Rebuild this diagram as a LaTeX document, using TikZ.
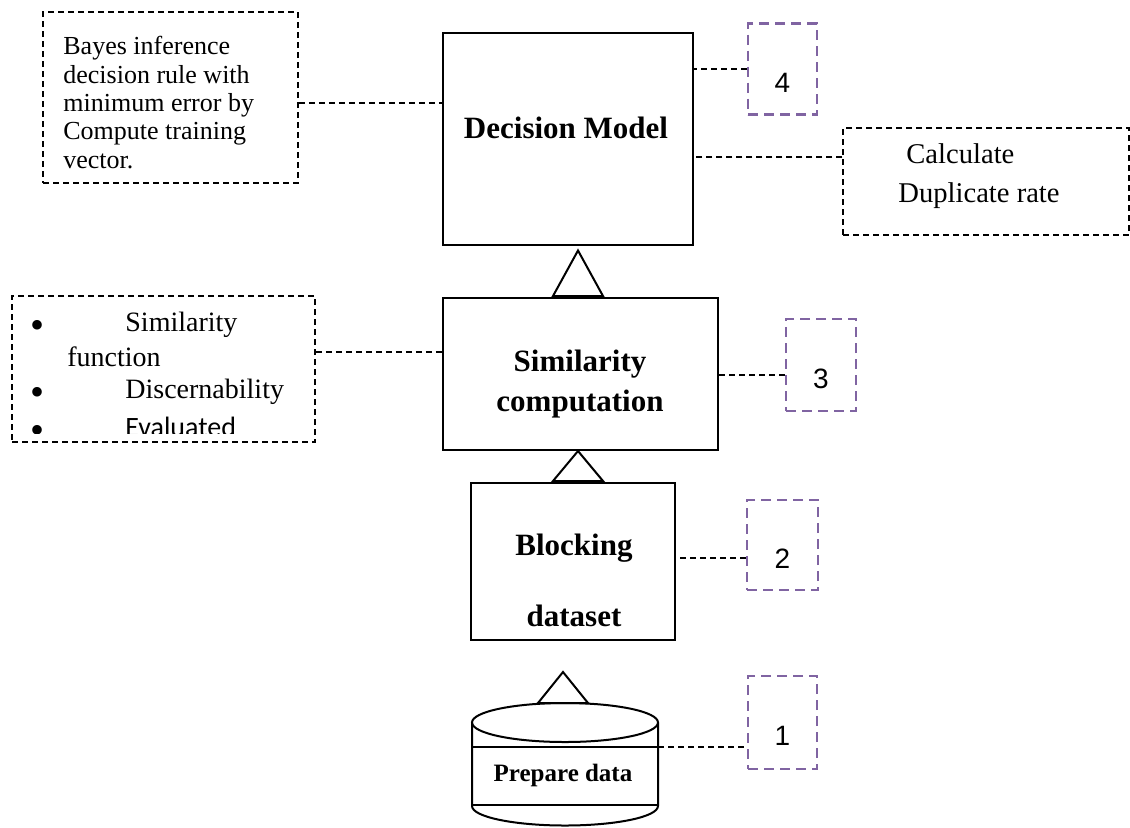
\documentclass[tikz,border=0pt]{standalone}
\usepackage{fontspec}
\setmainfont{Liberation Serif}
\newfontfamily\numfont{Liberation Sans}
\newfontfamily\bodyfont{Carlito}
\usetikzlibrary{calc}
\definecolor{tagpurple}{HTML}{8064A2}
\newcommand{\itemdot}{\makebox[47.5pt][l]{\fontsize{20}{20}\selectfont\raisebox{-3.5pt}{\textbullet}}}

\begin{document}
\begin{tikzpicture}[x=0.5pt, y=-0.5pt,
    block/.style={draw, line width=1pt, inner sep=0pt},
    note/.style={draw, line width=0.75pt, dash pattern=on 3pt off 2pt, inner sep=0pt},
    tag/.style={draw=tagpurple, line width=1.1pt, dash pattern=on 5pt off 3pt, inner sep=0pt,
                font=\numfont\fontsize{14}{16}\selectfont, text height=23pt, text depth=0pt},
    link/.style={line width=0.75pt, dash pattern=on 3pt off 2pt},
    head/.style={font=\bfseries\fontsize{15.5}{20}\selectfont, align=center, inner sep=0pt},
    txt/.style={inner sep=0pt}]
  \useasboundingbox (0,0) rectangle (1130,827);

  % main chain
  \node[block, minimum width=125pt, minimum height=106pt] (dec) at (568,139) {};
  \node[head] (dectxt) at (566,127.5) {Decision Model};
  \node[block, minimum width=137.5pt, minimum height=76pt] (sim) at (580.5,374) {};
  \node[head] (simtxt) at (580,384) {Similarity\\computation};
  \node[block, minimum width=102pt, minimum height=78.5pt] (blk) at (573,561.5) {};
  \node[head, font=\bfseries\fontsize{15.5}{35.5}\selectfont] (blktxt) at (574,580) {Blocking\\dataset};

  % data store
  \draw[line width=1pt] (565,722.5) ellipse [x radius=93, y radius=19.5];
  \draw[line width=1pt] (472,722.5) -- (472,806)
    arc[start angle=180, end angle=0, x radius=93, y radius=19.5] -- (658,722.5);
  \draw[line width=1pt] (472,747) -- (658,747) (472,805) -- (658,805);
  \node[txt, font=\bfseries\fontsize{12.5}{14}\selectfont] (db) at (563,775) {Prepare data};
  \coordinate (dbside) at (658,747);

  % triangles
  \draw[line width=1pt, fill=white] (553,296) -- (578,250.5) -- (603,296) -- cycle;
  \draw[line width=1pt, fill=white] (553,481) -- (578,451) -- (603,481) -- cycle;
  \draw[line width=1pt, fill=white] (538,703) -- (563,672) -- (588,703) -- cycle;

  % notes
  \node[note, minimum width=127.5pt, minimum height=85.5pt] (bayes) at (170.5,97.5) {};
  \node[txt, anchor=north west, align=left, font=\fontsize{13}{14.2}\selectfont] (bayestxt) at (63,36)
    {Bayes inference\\decision rule with\\minimum error by\\Compute training\\vector.};
  \node[note, minimum width=143pt, minimum height=53.5pt] (calc) at (986,181.5) {};
  \node[txt, anchor=north west, align=left, font=\fontsize{14.3}{19.5}\selectfont] (calctxt) at (898,143.5)
    {\hspace*{4pt}Calculate\\Duplicate rate};
  \node[note, minimum width=151.5pt, minimum height=73pt] (feat) at (163.5,369) {};
  \begin{scope}[every node/.style={txt, anchor=base west, font=\fontsize{14}{16}\selectfont}]
    \clip (12,296) rectangle (315,433);
    \node (item1) at (30,331) {\itemdot Similarity};
    \node (item1b) at (67,366) {function};
    \node (item2) at (30,398) {\itemdot Discernability};
    \node (item3) at (30,436) {\itemdot{\bodyfont Evaluated}};
  \end{scope}

  % step tags
  \node[tag, minimum width=34.5pt, minimum height=45.5pt] (t4) at (782.5,69) {4};
  \node[tag, minimum width=35pt, minimum height=46pt] (t3) at (821,365) {3};
  \node[tag, minimum width=35.5pt, minimum height=45pt] (t2) at (782.5,545) {2};
  \node[tag, minimum width=34.5pt, minimum height=46.5pt] (t1) at (782.5,722.5) {1};

  % dashed links
  \coordinate (k1) at ($(bayes.east)+(0,5.5)$);
  \draw[link] (k1) -- (k1 -| dec.west);
  \draw[link] (t4.west) -- (t4.west -| dec.east);
  \coordinate (k3) at ($(calc.west)+(0,-24.5)$);
  \draw[link] (k3) -- (k3 -| dec.east);
  \coordinate (k4) at ($(feat.east)+(0,-17)$);
  \draw[link] (k4) -- (k4 -| sim.west);
  \coordinate (k5) at ($(t3.west)+(0,10)$);
  \draw[link] (k5) -- (k5 -| sim.east);
  \coordinate (k6) at ($(t2.west)+(0,13)$);
  \draw[link] (k6) -- (k6 -| blk.east);
  \draw[link] (dbside) -- (dbside -| t1.west);
\end{tikzpicture}
\end{document}
